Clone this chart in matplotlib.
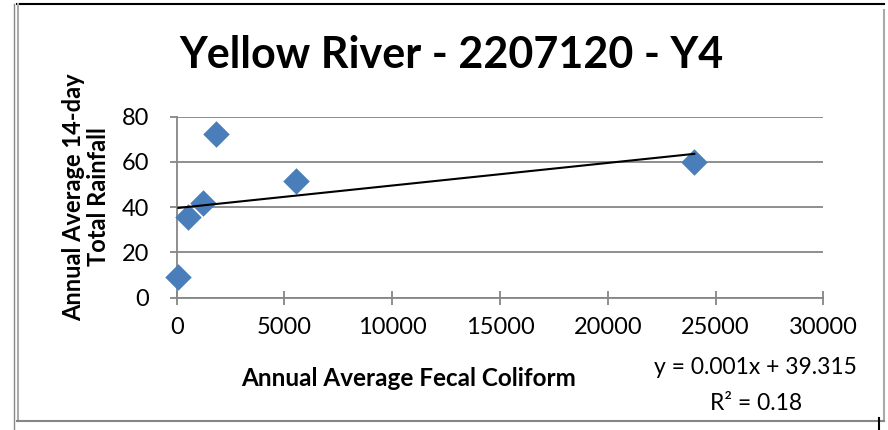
import numpy as np
import matplotlib
matplotlib.use("Agg")
import matplotlib.pyplot as plt
from matplotlib.lines import Line2D

# Data
fecal_coliform = [80, 540, 1205, 1810, 5530, 24015]
rainfall = [9.3, 35.6, 42.0, 72.3, 51.6, 59.9]
x_ticks = [0, 5000, 10000, 15000, 20000, 25000, 30000]
y_ticks = [0, 20, 40, 60, 80]
title = "Yellow River - 2207120 - Y4"
x_label = "Annual Average Fecal Coliform"
y_label = "Annual Average 14-day\nTotal Rainfall"
eq_text = "y = 0.001x + 39.315"
r2_text = "R\u00b2 = 0.18"

plt.rcParams['font.family'] = ['Lato', 'DejaVu Sans']

W, H = 888, 430
fig = plt.figure(figsize=(W/100, H/100), dpi=100)

def fx(px):
    return px / W

def fy(py):
    return 1 - py / H

gray = '#868686'
ax = fig.add_axes([fx(176.7), fy(297.7), fx(823.3) - fx(176.7), fy(116.7) - fy(297.7)])

ax.scatter(fecal_coliform, rainfall, marker='D', s=13.5**2, color='#4A7EBB',
           zorder=3, linewidths=0, clip_on=False)
coef = np.polyfit(fecal_coliform, rainfall, 1)
xs = np.array([min(fecal_coliform), max(fecal_coliform)])
ax.plot(xs, np.polyval(coef, xs), color='black', lw=1.5, zorder=4)

ax.set_xlim(0, 30000)
ax.set_ylim(0, 80)
ax.set_xticks(x_ticks)
ax.set_yticks(y_ticks)
ax.set_xticklabels([str(t) for t in x_ticks])
ax.set_yticklabels([str(t) for t in y_ticks])
ax.tick_params(axis='x', direction='inout', length=10, width=1.3, color=gray,
               labelsize=17, pad=9)
ax.tick_params(axis='y', direction='out', length=5, width=1.3, color=gray,
               labelsize=17, pad=15)
for s in ['top', 'right']:
    ax.spines[s].set_visible(False)
for s in ['left', 'bottom']:
    ax.spines[s].set_color(gray)
    ax.spines[s].set_linewidth(1.3)
ax.grid(axis='y', color=gray, lw=1.3)
ax.set_axisbelow(True)

fig.text(fx(451), fy(55), title, ha='center', va='center', fontsize=31,
         fontweight='bold')
fig.text(fx(409), fy(378), x_label, ha='center', va='center', fontsize=17.5,
         fontweight='bold')
fig.text(fx(86), fy(197), y_label, ha='center', va='center', fontsize=17,
         fontweight='bold', rotation=90, linespacing=1.13)
fig.text(fx(755), fy(368), eq_text, ha='center', va='center', fontsize=16.5)
fig.text(fx(756), fy(403), r2_text, ha='center', va='center', fontsize=16.5)

# chart frame decorations
def fl(x0, y0, x1, y1, c, lw):
    fig.add_artist(Line2D([fx(x0), fx(x1)], [fy(y0), fy(y1)], color=c, lw=lw,
                          transform=fig.transFigure))

fl(17, 4, 884, 4, 'black', 1.5)
fl(13.5, 4, 13.5, 430, gray, 1.0)
fl(17.5, 4, 17.5, 421, '#aaaaaa', 1.5)
fl(884, 10, 884, 421, '#aaaaaa', 1.5)
fl(17, 421, 884, 421, gray, 1.5)
fl(879, 418, 879, 430, 'black', 1.5)

fig.savefig('out.png', dpi=100)
